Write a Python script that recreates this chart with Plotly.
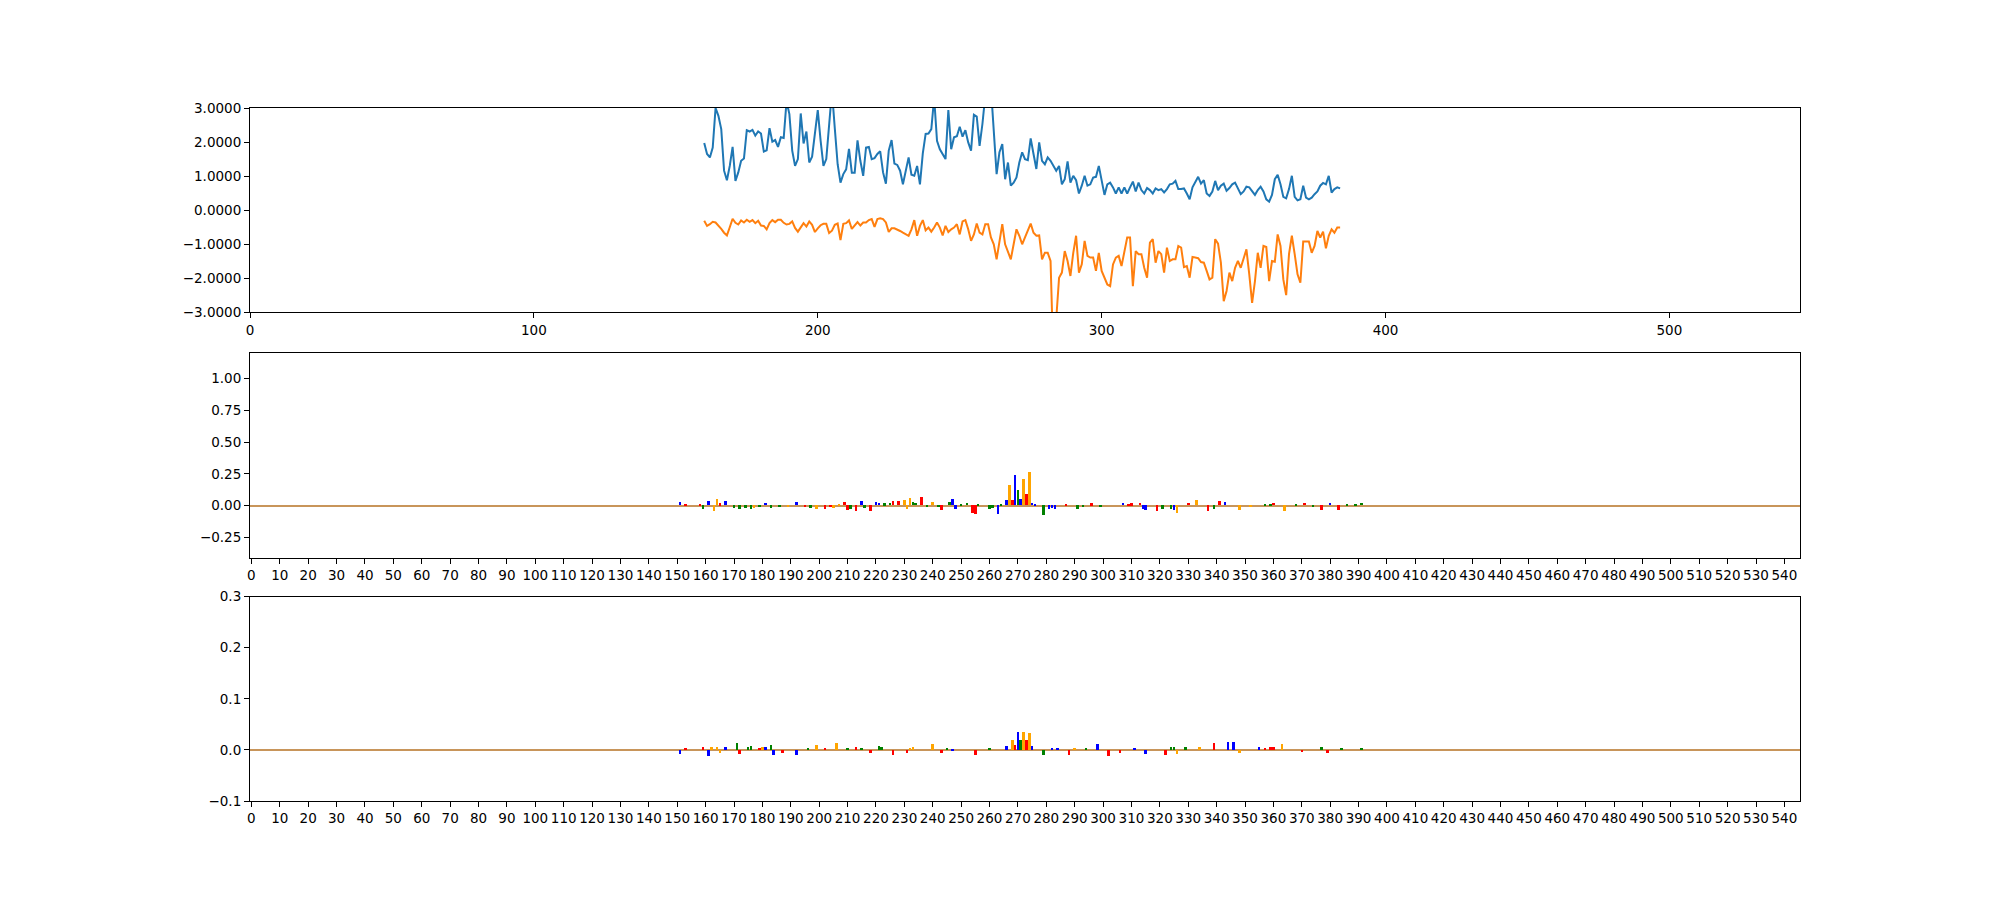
import plotly.graph_objects as go

# ---------------- top panel data (positions 160..384) ----------------
line_start = 160
blue_vals = [
    1.97, 1.65, 1.55, 1.84, 3.00, 2.77, 2.38, 1.16, 0.88, 1.30,
    1.86, 0.86, 1.11, 1.45, 1.52, 2.35, 2.31, 2.36, 2.19, 2.31,
    2.25, 1.72, 1.76, 2.41, 2.01, 2.06, 1.86, 2.14, 2.12, 3.20,
    2.82, 1.75, 1.30, 1.50, 2.84, 1.96, 2.31, 1.40, 1.57, 2.33,
    2.94, 2.04, 1.30, 1.50, 2.53, 3.50, 2.40, 1.35, 0.81, 1.06,
    1.20, 1.80, 1.10, 1.10, 2.05, 1.45,
    1.01, 1.84, 1.86, 1.50, 1.53, 1.65, 1.73, 1.11, 0.78, 1.75,
    2.06, 1.37, 1.33, 1.16, 0.76, 1.11, 1.55, 1.04, 1.01, 1.30,
    0.76, 1.67, 2.24, 2.25, 2.38, 3.30, 2.04, 1.79, 1.65, 1.50,
    2.94, 1.79, 2.14, 2.17, 2.45, 2.16, 2.35, 1.99, 1.75, 2.80,
    2.75, 1.89, 2.53, 3.60, 4.20, 3.60, 2.20, 1.06, 1.70, 1.94,
    0.91, 1.40, 0.72, 0.81, 0.96, 1.40, 1.70,
    1.50, 1.47, 2.11, 1.65, 1.21, 1.99, 1.45, 1.35, 1.55, 1.45,
    1.30, 1.16, 1.30, 0.76, 0.91, 1.43, 0.81, 1.01, 0.88, 0.49,
    0.72, 1.01, 0.72, 0.76, 0.96, 0.98, 1.30, 0.81, 0.45, 0.76,
    0.81, 0.67, 0.49, 0.67, 0.49, 0.67, 0.49, 0.67, 0.84, 0.55,
    0.81, 0.59, 0.49, 0.65, 0.59, 0.49, 0.64, 0.59, 0.62, 0.52,
    0.62, 0.76, 0.78, 0.86, 0.62, 0.62,
    0.64, 0.49, 0.32, 0.67, 0.84, 0.98, 0.78, 0.88, 0.49, 0.42,
    0.55, 0.86, 0.59, 0.72, 0.78, 0.57, 0.65, 0.76, 0.81, 0.62,
    0.47, 0.55, 0.69, 0.67, 0.55, 0.45, 0.59, 0.69, 0.55, 0.32,
    0.25, 0.45, 0.91, 1.04, 0.76, 0.39, 0.35, 0.62, 1.01, 0.39,
    0.29, 0.32, 0.72, 0.37, 0.32, 0.37, 0.47, 0.55, 0.72, 0.80,
    0.76, 1.01, 0.52, 0.62, 0.67, 0.64,
]
orange_vals = [
    -0.31, -0.46, -0.41, -0.34, -0.36, -0.44, -0.55, -0.66, -0.74, -0.50,
    -0.25, -0.37, -0.42, -0.30, -0.36, -0.28, -0.34, -0.29, -0.38, -0.31,
    -0.45, -0.46, -0.56, -0.38, -0.29, -0.35, -0.28, -0.28, -0.37, -0.42,
    -0.40, -0.33, -0.52, -0.63, -0.50, -0.38, -0.48, -0.33, -0.43, -0.64,
    -0.53, -0.44, -0.40, -0.40, -0.67, -0.60, -0.43, -0.39, -0.88, -0.40,
    -0.38, -0.30, -0.55, -0.44, -0.35, -0.45,
    -0.36, -0.36, -0.29, -0.26, -0.49, -0.26, -0.24, -0.26, -0.36, -0.64,
    -0.53, -0.53, -0.56, -0.61, -0.66, -0.71, -0.75, -0.56, -0.29, -0.75,
    -0.46, -0.29, -0.59, -0.51, -0.63, -0.51, -0.36, -0.51, -0.74, -0.46,
    -0.64, -0.56, -0.51, -0.41, -0.71, -0.33, -0.29, -0.56, -0.90, -0.71,
    -0.39, -0.66, -0.71, -0.41, -0.41, -0.80, -1.00, -1.44, -0.90, -0.41,
    -1.00, -1.25, -1.44, -1.00, -0.56, -0.75, -1.00,
    -0.80, -0.61, -0.39, -0.66, -0.75, -0.74, -1.44, -1.25, -1.25, -1.49,
    -4.40, -3.20, -1.98, -1.83, -1.20, -1.49, -1.93, -1.25, -0.75, -1.83,
    -1.59, -0.90, -1.34, -1.39, -1.39, -1.78, -1.25, -1.78, -1.98, -2.18,
    -2.23, -1.59, -1.39, -1.34, -1.64, -1.25, -0.80, -0.80, -2.23, -1.20,
    -1.29, -1.29, -1.69, -1.98, -0.95, -0.85, -1.54, -1.20, -1.29, -1.83,
    -1.10, -1.49, -1.44, -1.44, -1.05, -1.10,
    -1.67, -1.64, -1.98, -1.37, -1.39, -1.41, -1.52, -1.54, -1.78, -2.03,
    -1.98, -0.85, -0.98, -1.54, -2.67, -2.37, -1.83, -2.08, -1.69, -1.49,
    -1.69, -1.44, -1.15, -1.88, -2.72, -2.08, -1.25, -1.69, -1.05, -1.08,
    -2.08, -1.49, -1.51, -0.71, -1.05, -2.03, -2.49, -1.29, -0.75, -1.29,
    -1.88, -2.13, -0.92, -0.92, -0.92, -1.25, -1.05, -0.61, -0.80, -0.63,
    -1.12, -0.75, -0.56, -0.66, -0.51, -0.51,
]
top_xticks = [0, 100, 200, 300, 400, 500]
top_yticks = [-3, -2, -1, 0, 1, 2, 3]

# ---------------- middle logo (sparse letter heights) ----------------
mid_pos = [151, 153, 158, 159, 161, 163, 164, 165, 167, 170, 172, 174, 176, 177, 179,
           181, 183, 186, 189, 192, 195, 197, 199, 202, 204, 205, 207, 209, 210, 211,
           213, 215, 216, 218, 220, 221, 223, 225, 226, 228, 230, 231, 232, 233, 234,
           236, 238, 240, 242, 243, 246, 247, 248, 250, 252, 254, 255, 256, 260, 261,
           263, 264, 266, 267, 268, 269, 270, 271, 272, 273, 274, 275, 276, 279, 281,
           282, 283, 287, 291, 293, 296, 299, 307, 309, 310, 313, 314, 315, 319, 321,
           324, 325, 326, 330, 333, 337, 339, 341, 343, 348, 352, 357, 359, 360, 364,
           368, 371, 374, 377, 380, 383, 386, 389, 391]
mid_base = ["C", "T", "T", "A", "C", "G", "G", "T", "C", "A", "A", "A", "A", "G", "A",
            "C", "A", "A", "G", "C", "T", "A", "G", "T", "T", "G", "G", "T", "T", "A",
            "T", "C", "A", "T", "C", "C", "A", "A", "T", "T", "G", "G", "G", "A", "A",
            "T", "A", "G", "A", "T", "A", "C", "C", "A", "A", "T", "T", "A", "A", "A",
            "C", "A", "C", "G", "T", "C", "A", "C", "G", "T", "G", "C", "C", "A", "C",
            "C", "C", "T", "A", "A", "T", "A", "C", "T", "T", "T", "C", "C", "T", "A",
            "A", "C", "G", "T", "G", "T", "A", "T", "C", "G", "G", "A", "A", "T", "G",
            "A", "T", "A", "T", "C", "T", "A", "A", "A"]
mid_val = [0.026, 0.010, 0.013, -0.026, 0.034, -0.045, 0.050, 0.015, 0.034, -0.020,
           -0.026, -0.020, -0.026, -0.020, -0.015, 0.018, -0.020, -0.015, -0.015, 0.026,
           -0.010, -0.020, -0.026, -0.026, -0.015, -0.020, 0.013, 0.025, -0.040, -0.030,
           -0.044, 0.034, -0.020, -0.044, 0.030, 0.020, 0.015, 0.020, 0.031, 0.031,
           0.045, -0.030, 0.060, 0.030, 0.020, 0.065, -0.015, 0.026, -0.015, -0.035,
           0.026, 0.050, -0.026, 0.010, 0.020, -0.060, -0.065, 0.010, -0.026, -0.020,
           -0.065, 0.010, 0.040, 0.157, 0.040, 0.235, 0.117, 0.050, 0.210, 0.090,
           0.260, 0.020, 0.010, -0.080, -0.026, -0.020, -0.026, 0.010, -0.030, -0.015,
           0.015, -0.015, 0.018, 0.013, 0.015, 0.018, -0.030, -0.034, -0.044, -0.030,
           -0.030, -0.034, -0.060, 0.018, 0.040, -0.044, -0.030, 0.034, 0.026, -0.034,
           -0.015, 0.013, 0.013, 0.018, -0.044, 0.010, 0.018, -0.015, -0.040, 0.020,
           -0.040, 0.013, 0.013, 0.018]
mid_yticks = [-0.25, 0.0, 0.25, 0.5, 0.75, 1.0]

# ---------------- bottom logo (sparse letter heights) ----------------
bot_pos = [151, 153, 159, 161, 162, 164, 165, 167, 171, 172, 175, 176, 179, 180, 181,
           183, 184, 187, 192, 196, 199, 202, 206, 210, 213, 215, 218, 221, 222, 226,
           231, 232, 233, 240, 243, 245, 247, 255, 260, 266, 268, 269, 270, 271, 272,
           273, 274, 275, 279, 282, 284, 288, 290, 294, 298, 302, 306, 311, 315, 322,
           324, 325, 326, 329, 334, 339, 344, 346, 348, 355, 357, 359, 360, 363, 370,
           377, 379, 384, 391]
bot_base = ["C", "T", "T", "C", "G", "G", "G", "C", "A", "T", "A", "A", "T", "G", "C",
            "A", "C", "T", "C", "A", "G", "T", "G", "A", "T", "A", "T", "A", "A", "T",
            "T", "G", "G", "G", "T", "A", "C", "T", "A", "C", "G", "T", "C", "A", "G",
            "T", "G", "C", "A", "C", "C", "T", "G", "A", "C", "T", "T", "C", "C", "T",
            "A", "A", "G", "A", "G", "T", "C", "C", "G", "C", "T", "T", "T", "G", "T",
            "A", "T", "A", "A"]
bot_val = [-0.008, 0.004, 0.007, -0.012, 0.006, 0.006, -0.005, 0.007, 0.014, -0.008,
           0.007, 0.008, 0.004, 0.007, 0.007, 0.010, -0.010, -0.006, -0.009, 0.004,
           0.010, 0.004, 0.014, 0.004, 0.007, 0.004, -0.006, 0.009, 0.006, -0.009,
           -0.006, 0.004, 0.006, 0.012, -0.006, 0.004, 0.003, -0.010, 0.004, 0.008,
           0.020, 0.010, 0.036, 0.020, 0.035, 0.020, 0.033, 0.008, -0.010, 0.005,
           0.004, -0.009, 0.004, 0.004, 0.012, -0.012, -0.006, 0.004, -0.008, -0.010,
           0.007, 0.007, -0.008, 0.007, 0.007, 0.014, 0.017, 0.017, -0.006, 0.007,
           0.005, 0.007, 0.007, 0.012, -0.004, 0.006, -0.006, 0.004, 0.005]
bot_yticks = [-0.1, 0.0, 0.1, 0.2, 0.3]

seq_len = 546
logo_xticks = list(range(0, 541, 10))

base_order = ["A", "C", "G", "T"]
base_colors = {"A": "#008000", "C": "#0000ff", "G": "#ffa500", "T": "#ff0000"}

fig = go.Figure()

xs = list(range(line_start, line_start + len(blue_vals)))
fig.add_trace(go.Scatter(x=xs, y=blue_vals, mode="lines",
                         line=dict(color="#1f77b4", width=2), xaxis="x", yaxis="y",
                         showlegend=False))
fig.add_trace(go.Scatter(x=xs, y=orange_vals, mode="lines",
                         line=dict(color="#ff7f0e", width=2), xaxis="x", yaxis="y",
                         showlegend=False))


def add_logo(pos, bases, vals, xa, ya):
    for b in base_order:
        px = [p for p, bb in zip(pos, bases) if bb == b]
        py = [v for v, bb in zip(vals, bases) if bb == b]
        fig.add_trace(go.Bar(x=px, y=py, width=0.9, marker=dict(color=base_colors[b], line=dict(width=0)),
                             xaxis=xa, yaxis=ya, showlegend=False))


add_logo(mid_pos, mid_base, mid_val, "x2", "y2")
add_logo(bot_pos, bot_base, bot_val, "x3", "y3")

font = dict(family="DejaVu Sans", size=13.5, color="black")
common = dict(showline=True, mirror=True, linecolor="black", linewidth=1.1,
              ticks="outside", ticklen=5, tickwidth=1.1, tickcolor="black",
              showgrid=False, tickfont=font, tickangle=0)

fig.update_layout(
    width=2000, height=900,
    margin=dict(l=250, r=200, t=108, b=99, pad=0),
    paper_bgcolor="white", plot_bgcolor="white",
    barmode="relative", bargap=0,
    showlegend=False,
    xaxis=dict(domain=[0, 1], anchor="y", range=[0, seq_len], tickmode="array",
               tickvals=top_xticks, zeroline=False, **common),
    yaxis=dict(domain=[0.705, 1], anchor="x", range=[-3, 3], tickmode="array",
               tickvals=top_yticks, tickformat=".4f", zeroline=False, **common),
    xaxis2=dict(domain=[0, 1], anchor="y2", range=[-0.5, seq_len - 0.5], tickmode="array",
                tickvals=logo_xticks, zeroline=False, **common),
    yaxis2=dict(domain=[0.3512, 0.6461], anchor="x2", range=[-0.41, 1.2], tickmode="array",
                tickvals=mid_yticks, tickformat=".2f", zeroline=True,
                zerolinecolor="#c8955a", zerolinewidth=2, **common),
    xaxis3=dict(domain=[0, 1], anchor="y3", range=[-0.5, seq_len - 0.5], tickmode="array",
                tickvals=logo_xticks, zeroline=False, **common),
    yaxis3=dict(domain=[0, 0.2949], anchor="x3", range=[-0.1, 0.3], tickmode="array",
                tickvals=bot_yticks, tickformat=".1f", zeroline=True,
                zerolinecolor="#c8955a", zerolinewidth=2, **common),
)

fig.write_html("out.html", config={"displayModeBar": False},
               post_script="document.body.style.margin='0';document.body.style.overflow='hidden';")
